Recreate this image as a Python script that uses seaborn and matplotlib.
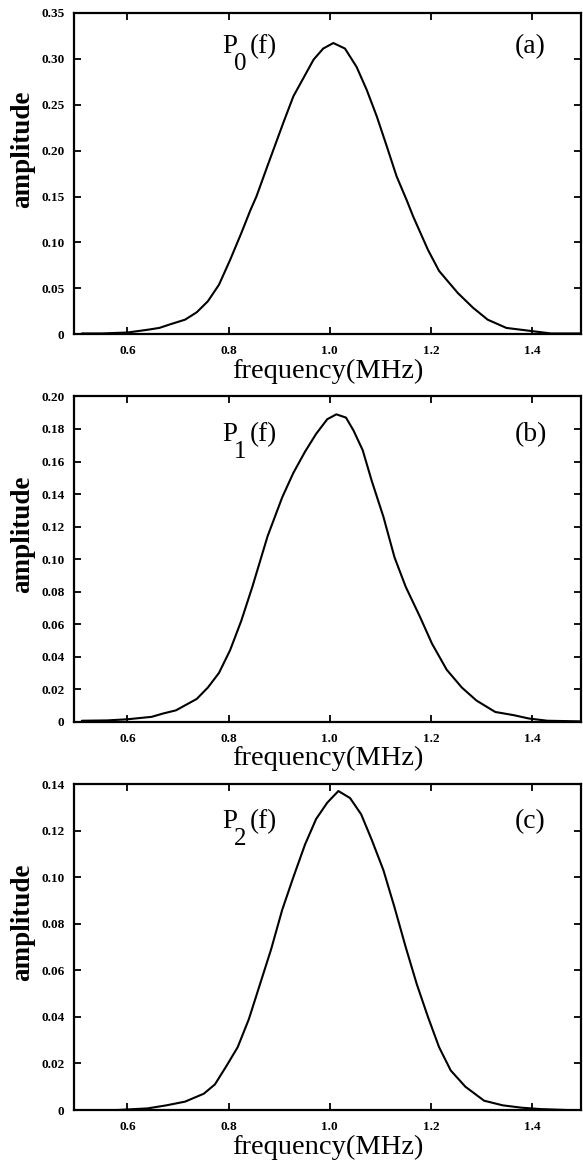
import numpy as np
import pandas as pd
import matplotlib
matplotlib.use("Agg")
import matplotlib.pyplot as plt
import matplotlib.transforms as mtransforms
import seaborn as sns

# ---------------- data ----------------
freq_a = [0.51, 0.55, 0.60, 0.64, 0.663, 0.685, 0.714, 0.737, 0.759, 0.781, 0.803,
          0.825, 0.843, 0.855, 0.876, 0.908, 0.928, 0.948, 0.968, 0.987, 1.007,
          1.030, 1.053, 1.073, 1.093, 1.113, 1.132, 1.152, 1.165, 1.194, 1.216,
          1.253, 1.283, 1.312, 1.349, 1.393, 1.437, 1.497]
amp_a = [0.001, 0.001, 0.002, 0.005, 0.007, 0.011, 0.016, 0.024, 0.036, 0.054, 0.081,
         0.110, 0.135, 0.150, 0.182, 0.230, 0.259, 0.279, 0.299, 0.311, 0.317,
         0.311, 0.291, 0.266, 0.237, 0.204, 0.172, 0.146, 0.128, 0.092, 0.069,
         0.045, 0.029, 0.016, 0.007, 0.004, 0.001, 0.001]

freq_b = [0.51, 0.56, 0.60, 0.648, 0.670, 0.696, 0.737, 0.759, 0.781, 0.803, 0.825,
          0.847, 0.877, 0.906, 0.928, 0.951, 0.973, 0.995, 1.013, 1.032, 1.047,
          1.065, 1.083, 1.106, 1.128, 1.150, 1.179, 1.202, 1.231, 1.261, 1.290,
          1.327, 1.364, 1.393, 1.430, 1.497]
amp_b = [0.0006, 0.0008, 0.0015, 0.003, 0.005, 0.007, 0.014, 0.021, 0.030, 0.044, 0.062,
         0.083, 0.114, 0.138, 0.153, 0.166, 0.177, 0.186, 0.189, 0.187, 0.179,
         0.167, 0.148, 0.126, 0.101, 0.083, 0.064, 0.048, 0.032, 0.021, 0.013,
         0.006, 0.004, 0.002, 0.0006, 0.0002]

freq_c = [0.58, 0.64, 0.677, 0.714, 0.751, 0.773, 0.796, 0.818, 0.840, 0.862, 0.884,
          0.906, 0.928, 0.951, 0.973, 0.995, 1.017, 1.040, 1.062, 1.083, 1.106,
          1.128, 1.150, 1.172, 1.194, 1.216, 1.239, 1.268, 1.305, 1.342, 1.379,
          1.416, 1.468]
amp_c = [0.0, 0.0007, 0.002, 0.0036, 0.007, 0.011, 0.019, 0.027, 0.039, 0.054, 0.069,
         0.086, 0.100, 0.114, 0.125, 0.132, 0.137, 0.134, 0.127, 0.116, 0.103,
         0.087, 0.070, 0.054, 0.040, 0.027, 0.017, 0.010, 0.004, 0.002, 0.001,
         0.0004, 0.0]

x_ticks = [0.6, 0.8, 1.0, 1.2, 1.4]
x_tick_labels = ["0.6", "0.8", "1.0", "1.2", "1.4"]

y_ticks_a = [0, 0.05, 0.10, 0.15, 0.20, 0.25, 0.30, 0.35]
y_labels_a = ["0", "0.05", "0.10", "0.15", "0.20", "0.25", "0.30", "0.35"]
y_ticks_b = [0, 0.02, 0.04, 0.06, 0.08, 0.10, 0.12, 0.14, 0.16, 0.18, 0.20]
y_labels_b = ["0", "0.02", "0.04", "0.06", "0.08", "0.10", "0.12", "0.14", "0.16", "0.18", "0.20"]
y_ticks_c = [0, 0.02, 0.04, 0.06, 0.08, 0.10, 0.12, 0.14]
y_labels_c = ["0", "0.02", "0.04", "0.06", "0.08", "0.10", "0.12", "0.14"]

subscripts = ["0", "1", "2"]
panel_tags = ["(a)", "(b)", "(c)"]

# ---------------- style ----------------
sns.set_theme(style="ticks")
plt.rcParams["font.family"] = ["Liberation Serif", "DejaVu Serif"]

fig = plt.figure(figsize=(5.83, 11.65), dpi=100)

# axes rectangles in figure fractions [left, bottom, width, height]
rects = [
    [0.1274, 0.7130, 0.8696, 0.2761],
    [0.1274, 0.3805, 0.8696, 0.2792],
    [0.1274, 0.0472, 0.8696, 0.2798],
]
ylims = [(0, 0.35), (0, 0.20), (0, 0.14)]
text_y = [0.874, 0.862, 0.864]

panels = [
    (freq_a, amp_a, y_ticks_a, y_labels_a),
    (freq_b, amp_b, y_ticks_b, y_labels_b),
    (freq_c, amp_c, y_ticks_c, y_labels_c),
]

for i, (fx, fy, yt, yl) in enumerate(panels):
    ax = fig.add_axes(rects[i])
    df = pd.DataFrame({"frequency": fx, "amplitude": fy})
    sns.lineplot(data=df, x="frequency", y="amplitude", ax=ax, color="black",
                 linewidth=1.5, estimator=None, sort=True)
    ax.set_xlim(0.495, 1.497)
    ax.set_ylim(*ylims[i])
    ax.set_xticks(x_ticks)
    ax.set_xticklabels(x_tick_labels)
    ax.set_yticks(yt)
    ax.set_yticklabels(yl)
    for s in ax.spines.values():
        s.set_visible(True)
        s.set_linewidth(1.6)
        s.set_color("black")
    ax.tick_params(axis="both", which="major", direction="in", length=5, width=1.3,
                   top=True, right=True, colors="black", labelsize=9.5)
    ax.tick_params(axis="x", pad=8)
    ax.tick_params(axis="y", pad=7)
    for lab in ax.get_xticklabels() + ax.get_yticklabels():
        lab.set_fontweight("bold")
    ax.set_xlabel("frequency(MHz)", fontsize=20.5, color="black")
    ax.xaxis.set_label_coords(0.5, -0.075)
    ax.xaxis.label.set_verticalalignment("top")
    ax.set_ylabel("amplitude", fontsize=19.5, fontweight="bold", color="black")
    ax.yaxis.set_label_coords(-0.078, 0.575)

    # P_n(f) label built from three text pieces (large, low subscript)
    ax.text(0.291, text_y[i], "P", transform=ax.transAxes, ha="left",
            va="baseline", fontsize=19.5, color="black")
    sub_tr = mtransforms.offset_copy(ax.transAxes, fig=fig, x=12.5, y=-17, units="dots")
    ax.text(0.291, text_y[i], subscripts[i], transform=sub_tr, ha="left",
            va="baseline", fontsize=18, color="black")
    f_tr = mtransforms.offset_copy(ax.transAxes, fig=fig, x=27.5, y=0, units="dots")
    ax.text(0.291, text_y[i], "(f)", transform=f_tr, ha="left",
            va="baseline", fontsize=19.5, color="black")

    ax.text(0.869, text_y[i], panel_tags[i], transform=ax.transAxes,
            ha="left", va="baseline", fontsize=20, color="black")
    ax.grid(False)

fig.savefig("out.png", dpi=100)
